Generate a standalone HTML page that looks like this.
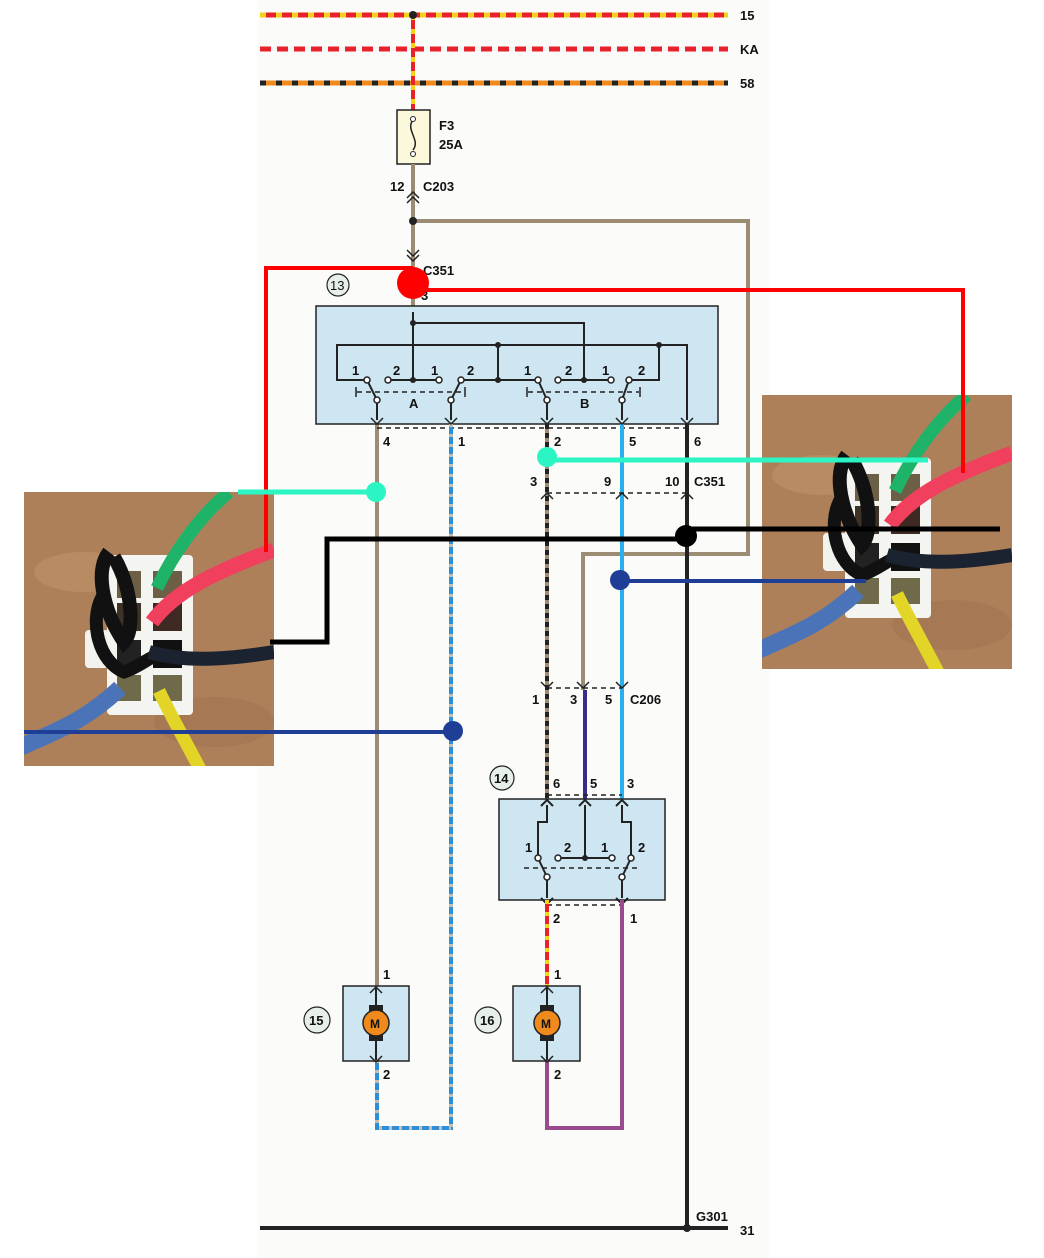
<!DOCTYPE html>
<html><head><meta charset="utf-8"><style>
html,body{margin:0;padding:0;background:#fff}
svg{display:block}
text{font-family:"Liberation Sans",sans-serif;font-size:13px;fill:#111;font-weight:bold}
</style></head><body>
<svg width="1044" height="1258" viewBox="0 0 1044 1258" xmlns="http://www.w3.org/2000/svg">
<defs>
<clipPath id="pc"><rect x="0" y="0" width="250" height="274"/></clipPath>
<g id="photo" clip-path="url(#pc)">
<rect x="0" y="0" width="250" height="274" fill="#b3875f"/>
<rect x="0" y="0" width="250" height="274" fill="#8a6040" opacity="0.15"/>
<ellipse cx="60" cy="80" rx="50" ry="20" fill="#c79a70" opacity="0.4"/>
<ellipse cx="190" cy="230" rx="60" ry="25" fill="#9a6e4c" opacity="0.4"/>
<rect x="61" y="138" width="24" height="38" rx="4" fill="#f2f2ee"/>
<rect x="83" y="63" width="86" height="160" rx="4" fill="#f4f4f0"/>
<rect x="93" y="79" width="24" height="27" fill="#6b6046"/>
<rect x="129" y="79" width="29" height="27" fill="#6b6046"/>
<rect x="93" y="111" width="24" height="28" fill="#3e3326"/>
<rect x="129" y="111" width="29" height="28" fill="#3e2a22"/>
<rect x="93" y="148" width="24" height="28" fill="#222"/>
<rect x="129" y="148" width="29" height="28" fill="#111"/>
<rect x="93" y="183" width="24" height="26" fill="#6e6a4a"/>
<rect x="129" y="183" width="29" height="26" fill="#6e6a4a"/>
<path d="M85 60 C70 80 80 120 100 150 C110 140 110 100 90 65" fill="none" stroke="#111" stroke-width="14"/>
<path d="M78 105 C65 130 75 170 100 180 C115 175 125 165 140 160" fill="none" stroke="#111" stroke-width="13"/>
<path d="M133 96 C150 60 175 25 205 0" fill="none" stroke="#1fb36a" stroke-width="13"/>
<path d="M128 130 C150 100 190 80 250 58" fill="none" stroke="#f0405e" stroke-width="15"/>
<path d="M125 160 C160 170 200 168 250 160" fill="none" stroke="#1c2330" stroke-width="14"/>
<path d="M96 196 C60 230 30 240 -10 258" fill="none" stroke="#4a73b8" stroke-width="17"/>
<path d="M135 199 C150 230 165 255 180 285" fill="none" stroke="#e3d528" stroke-width="13"/>
</g>
</defs>

<rect x="258" y="0" width="512" height="1258" fill="#fbfbfa"/>

<!-- buses -->
<line x1="260" y1="15" x2="728" y2="15" stroke="#e8222a" stroke-width="5"/>
<line x1="260" y1="15" x2="728" y2="15" stroke="#f3d31a" stroke-width="5" stroke-dasharray="6 10"/>
<line x1="260" y1="49" x2="728" y2="49" stroke="#f5f5f5" stroke-width="5"/>
<line x1="260" y1="49" x2="728" y2="49" stroke="#e8222a" stroke-width="5" stroke-dasharray="11 6"/>
<line x1="260" y1="83" x2="728" y2="83" stroke="#f08a1c" stroke-width="5"/>
<line x1="260" y1="83" x2="728" y2="83" stroke="#222" stroke-width="5" stroke-dasharray="6 10"/>
<text x="740" y="20">15</text><text x="740" y="54">KA</text><text x="740" y="88">58</text>
<line x1="413" y1="15" x2="413" y2="110" stroke="#e8222a" stroke-width="4"/>
<line x1="413" y1="15" x2="413" y2="110" stroke="#f3d31a" stroke-width="4" stroke-dasharray="5 9"/>
<circle cx="413" cy="15" r="4" fill="#222"/>

<!-- fuse -->
<rect x="397" y="110" width="33" height="54" fill="#fbf8dc" stroke="#222" stroke-width="1.5"/>
<path d="M413 120 C405 130 421 140 413 150" fill="none" stroke="#222" stroke-width="1.5"/>
<circle cx="413" cy="119" r="2.5" fill="#fff" stroke="#222"/><circle cx="413" cy="154" r="2.5" fill="#fff" stroke="#222"/>
<text x="439" y="130">F3</text><text x="439" y="149">25A</text>
<text x="390" y="191">12</text><text x="423" y="191">C203</text>

<!-- brown top -->
<g fill="none" stroke="#9c8c74" stroke-width="4">
<line x1="413" y1="164" x2="413" y2="306"/>
<polyline points="413,221 748,221 748,554 583,554 583,690"/>
<line x1="377" y1="424" x2="377" y2="987"/>
</g>
<circle cx="413" cy="221" r="4" fill="#222"/>
<g fill="none" stroke="#222" stroke-width="1.5">
<polyline points="407,198 413,192 419,198"/><polyline points="407,203 413,197 419,203"/>
<polyline points="407,250 413,256 419,250"/><polyline points="407,255 413,261 419,255"/>
<polyline points="407,318 413,312 419,318"/>
</g>
<text x="423" y="275">C351</text>
<text x="421" y="300">3</text>
<circle cx="338" cy="285" r="11" fill="#e6efe8" stroke="#222" stroke-width="1.2"/>
<text x="330" y="290" style="font-weight:normal">13</text>

<!-- block 13 -->
<rect x="316" y="306" width="402" height="118" fill="#cde6f2" stroke="#222" stroke-width="1.5"/>
<g fill="none" stroke="#222" stroke-width="2">
<polyline points="413,312 413,380"/>
<polyline points="413,323 584,323 584,380"/>
<polyline points="367,380 337,380 337,345 687,345 687,420"/>
<line x1="498" y1="345" x2="498" y2="380"/>
<polyline points="659,345 659,380 629,380"/>
<line x1="388" y1="380" x2="439" y2="380"/>
<line x1="461" y1="380" x2="538" y2="380"/>
<line x1="558" y1="380" x2="611" y2="380"/>
<line x1="367" y1="380" x2="377" y2="400"/><line x1="461" y1="380" x2="451" y2="400"/>
<line x1="538" y1="380" x2="547" y2="400"/><line x1="629" y1="380" x2="622" y2="400"/>
<line x1="377" y1="400" x2="377" y2="420"/><line x1="451" y1="400" x2="451" y2="420"/>
<line x1="547" y1="400" x2="547" y2="420"/><line x1="622" y1="400" x2="622" y2="420"/>
</g>
<g stroke="#222" stroke-width="1.5" stroke-dasharray="5 4"><line x1="357" y1="392" x2="464" y2="392"/><line x1="528" y1="392" x2="639" y2="392"/></g>
<g stroke="#222" stroke-width="1.5"><line x1="356" y1="387" x2="356" y2="397"/><line x1="465" y1="387" x2="465" y2="397"/><line x1="527" y1="387" x2="527" y2="397"/><line x1="640" y1="387" x2="640" y2="397"/></g>
<g fill="#fff" stroke="#222" stroke-width="1.5">
<circle cx="367" cy="380" r="3"/><circle cx="388" cy="380" r="3"/><circle cx="439" cy="380" r="3"/><circle cx="461" cy="380" r="3"/>
<circle cx="538" cy="380" r="3"/><circle cx="558" cy="380" r="3"/><circle cx="611" cy="380" r="3"/><circle cx="629" cy="380" r="3"/>
<circle cx="377" cy="400" r="3"/><circle cx="451" cy="400" r="3"/><circle cx="547" cy="400" r="3"/><circle cx="622" cy="400" r="3"/>
</g>
<g fill="#222"><circle cx="413" cy="323" r="3"/><circle cx="413" cy="380" r="3"/><circle cx="498" cy="345" r="3"/><circle cx="498" cy="380" r="3"/><circle cx="659" cy="345" r="3"/><circle cx="584" cy="380" r="3"/></g>
<g style="font-size:12px">
<text x="352" y="375">1</text><text x="393" y="375">2</text><text x="431" y="375">1</text><text x="467" y="375">2</text>
<text x="524" y="375">1</text><text x="565" y="375">2</text><text x="602" y="375">1</text><text x="638" y="375">2</text>
<text x="409" y="408">A</text><text x="580" y="408">B</text>
</g>
<line x1="377" y1="428" x2="687" y2="428" stroke="#222" stroke-width="1.5" stroke-dasharray="5 4"/>

<!-- wires below 13 -->
<line x1="451" y1="424" x2="451" y2="1130" stroke="#2a8fd6" stroke-width="4"/>
<line x1="451" y1="424" x2="451" y2="1130" stroke="#c9bcae" stroke-width="4" stroke-dasharray="3 7"/>
<polyline points="377,1060 377,1128 451,1128" fill="none" stroke="#2a8fd6" stroke-width="4"/>
<polyline points="377,1060 377,1128 451,1128" fill="none" stroke="#c9bcae" stroke-width="4" stroke-dasharray="3 7"/>
<line x1="547" y1="424" x2="547" y2="800" stroke="#9c8c74" stroke-width="4"/>
<line x1="547" y1="424" x2="547" y2="800" stroke="#222" stroke-width="4" stroke-dasharray="5 4"/>
<line x1="622" y1="424" x2="622" y2="800" stroke="#2ab0ee" stroke-width="4"/>
<line x1="687" y1="424" x2="687" y2="1228" stroke="#222" stroke-width="4"/>
<line x1="585" y1="690" x2="585" y2="800" stroke="#3a2a8a" stroke-width="4"/>
<g fill="none" stroke="#222" stroke-width="1.5">
<polyline points="371,418 377,424 383,418"/><polyline points="445,418 451,424 457,418"/><polyline points="541,418 547,424 553,418"/><polyline points="616,418 622,424 628,418"/><polyline points="681,418 687,424 693,418"/>
<polyline points="541,499 547,493 553,499"/><polyline points="616,499 622,493 628,499"/><polyline points="681,499 687,493 693,499"/>
<polyline points="541,682 547,688 553,682"/><polyline points="577,682 583,688 589,682"/><polyline points="616,682 622,688 628,682"/>
</g>
<text x="383" y="446">4</text><text x="458" y="446">1</text><text x="554" y="446">2</text><text x="629" y="446">5</text><text x="694" y="446">6</text>
<line x1="547" y1="493" x2="687" y2="493" stroke="#222" stroke-width="1.5" stroke-dasharray="5 4"/>
<text x="530" y="486">3</text><text x="604" y="486">9</text><text x="665" y="486">10</text><text x="694" y="486">C351</text>
<line x1="547" y1="688" x2="622" y2="688" stroke="#222" stroke-width="1.5" stroke-dasharray="5 4"/>
<text x="532" y="704">1</text><text x="570" y="704">3</text><text x="605" y="704">5</text><text x="630" y="704">C206</text>

<!-- block 14 -->
<circle cx="502" cy="778" r="12" fill="#e6efe8" stroke="#222" stroke-width="1.2"/>
<text x="494" y="783">14</text>
<text x="553" y="788">6</text><text x="590" y="788">5</text><text x="627" y="788">3</text>
<line x1="547" y1="795" x2="622" y2="795" stroke="#222" stroke-width="1.5" stroke-dasharray="5 4"/>
<rect x="499" y="799" width="166" height="101" fill="#cde6f2" stroke="#222" stroke-width="1.5"/>
<g fill="none" stroke="#222" stroke-width="2">
<polyline points="547,805 547,822 538,822 538,858"/>
<polyline points="622,805 622,822 631,822 631,858"/>
<polyline points="585,805 585,858"/>
<line x1="558" y1="858" x2="612" y2="858"/>
<line x1="538" y1="858" x2="547" y2="877"/><line x1="631" y1="858" x2="622" y2="877"/>
<line x1="547" y1="877" x2="547" y2="898"/><line x1="622" y1="877" x2="622" y2="898"/>
<polyline points="541,806 547,800 553,806"/><polyline points="579,806 585,800 591,806"/><polyline points="616,806 622,800 628,806"/>
<polyline points="541,898 547,904 553,898"/><polyline points="616,898 622,904 628,898"/>
</g>
<line x1="524" y1="868" x2="641" y2="868" stroke="#222" stroke-width="1.5" stroke-dasharray="5 4"/>
<g fill="#fff" stroke="#222" stroke-width="1.5"><circle cx="538" cy="858" r="3"/><circle cx="558" cy="858" r="3"/><circle cx="612" cy="858" r="3"/><circle cx="631" cy="858" r="3"/><circle cx="547" cy="877" r="3"/><circle cx="622" cy="877" r="3"/></g>
<circle cx="585" cy="858" r="3" fill="#222"/>
<g style="font-size:12px"><text x="525" y="852">1</text><text x="564" y="852">2</text><text x="601" y="852">1</text><text x="638" y="852">2</text></g>
<line x1="547" y1="905" x2="622" y2="905" stroke="#222" stroke-width="1.5" stroke-dasharray="5 4"/>
<text x="553" y="923">2</text><text x="630" y="923">1</text>
<line x1="547" y1="900" x2="547" y2="988" stroke="#e8222a" stroke-width="4"/>
<line x1="547" y1="900" x2="547" y2="988" stroke="#f3d31a" stroke-width="4" stroke-dasharray="4 8"/>
<polyline points="622,900 622,1128 547,1128 547,1060" fill="none" stroke="#9a4a8e" stroke-width="4"/>

<!-- motors -->
<g>
<rect x="343" y="986" width="66" height="75" fill="#cde6f2" stroke="#222" stroke-width="1.5"/>
<line x1="376" y1="988" x2="376" y2="1060" stroke="#222" stroke-width="2"/>
<rect x="369" y="1005" width="14" height="36" fill="#222"/>
<circle cx="376" cy="1023" r="13" fill="#f08a1c" stroke="#222" stroke-width="1.5"/>
<text x="370" y="1028" style="font-size:12px">M</text>
<polyline points="370,993 376,987 382,993" fill="none" stroke="#222" stroke-width="1.5"/>
<polyline points="370,1056 376,1062 382,1056" fill="none" stroke="#222" stroke-width="1.5"/>
<text x="383" y="979">1</text><text x="383" y="1079">2</text>
<circle cx="317" cy="1020" r="13" fill="#e6efe8" stroke="#222" stroke-width="1.2"/>
<text x="309" y="1025">15</text>
</g>
<g>
<rect x="513" y="986" width="67" height="75" fill="#cde6f2" stroke="#222" stroke-width="1.5"/>
<line x1="547" y1="988" x2="547" y2="1060" stroke="#222" stroke-width="2"/>
<rect x="540" y="1005" width="14" height="36" fill="#222"/>
<circle cx="547" cy="1023" r="13" fill="#f08a1c" stroke="#222" stroke-width="1.5"/>
<text x="541" y="1028" style="font-size:12px">M</text>
<polyline points="541,993 547,987 553,993" fill="none" stroke="#222" stroke-width="1.5"/>
<polyline points="541,1056 547,1062 553,1056" fill="none" stroke="#222" stroke-width="1.5"/>
<text x="554" y="979">1</text><text x="554" y="1079">2</text>
<circle cx="488" cy="1020" r="13" fill="#e6efe8" stroke="#222" stroke-width="1.2"/>
<text x="480" y="1025">16</text>
</g>

<!-- ground -->
<line x1="260" y1="1228" x2="728" y2="1228" stroke="#222" stroke-width="4"/>
<circle cx="687" cy="1228" r="4" fill="#222"/>
<text x="696" y="1221">G301</text><text x="740" y="1235">31</text>

<!-- photos -->
<use href="#photo" x="24" y="492"/>
<use href="#photo" x="762" y="395"/>

<!-- overlay -->
<polyline points="266,552 266,268 413,268" fill="none" stroke="#ff0000" stroke-width="4"/>
<polyline points="413,290 963,290 963,473" fill="none" stroke="#ff0000" stroke-width="4"/>
<circle cx="413" cy="283" r="16" fill="#ff0000"/>
<line x1="238" y1="492" x2="376" y2="492" stroke="#2cf5c4" stroke-width="5"/>
<circle cx="376" cy="492" r="10" fill="#2cf5c4"/>
<line x1="547" y1="460" x2="928" y2="460" stroke="#2cf5c4" stroke-width="5"/>
<circle cx="547" cy="457" r="10" fill="#2cf5c4"/>
<polyline points="270,642 327,642 327,539 686,539" fill="none" stroke="#000" stroke-width="5"/>
<line x1="686" y1="529" x2="1000" y2="529" stroke="#000" stroke-width="5"/>
<circle cx="686" cy="536" r="11" fill="#000"/>
<line x1="620" y1="581" x2="866" y2="581" stroke="#1f3f96" stroke-width="4"/>
<circle cx="620" cy="580" r="10" fill="#1f3f96"/>
<line x1="24" y1="732" x2="453" y2="732" stroke="#1f3f96" stroke-width="4"/>
<circle cx="453" cy="731" r="10" fill="#1f3f96"/>
</svg>
</body></html>
